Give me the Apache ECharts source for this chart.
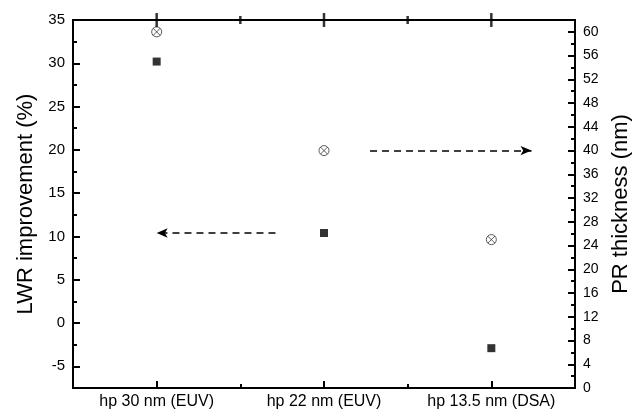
<!DOCTYPE html>
<html>
<head>
<meta charset="utf-8">
<script src="https://cdn.jsdelivr.net/npm/echarts@6/dist/echarts.min.js"></script>
<style>html,body{margin:0;padding:0;background:#fff}#c{width:633px;height:417px}</style>
</head>
<body>
<div id="c"></div>
<script>
const categories = ['hp 30 nm (EUV)', 'hp 22 nm (EUV)', 'hp 13.5 nm (DSA)'];
const lwrImprovement = [30.2, 10.4, -2.9];
const prThickness = [60, 40, 25];
const leftTicks = [-5, 0, 5, 10, 15, 20, 25, 30, 35];
const leftMinor = [-2.5, 2.5, 7.5, 12.5, 17.5, 22.5, 27.5, 32.5];
const rightTicks = [0, 4, 8, 12, 16, 20, 24, 28, 32, 36, 40, 44, 48, 52, 56, 60];
const rightMinor = [2, 6, 10, 14, 18, 22, 26, 30, 34, 38, 42, 46, 50, 54, 58];
const catPos = [1, 2, 3];
const catMinor = [1.5, 2.5];
const leftMax = 35;
// arrow annotations (x in category units)
const leftArrowX = [1.71, 1.0];
const rightArrowX = [2.275, 3.24];

const FONT = 'Liberation Sans, Arial, sans-serif';
const black = '#000';
const circleCross = 'path://M10,0 A10,10 0 1,1 10,20 A10,10 0 1,1 10,0 Z M2.93,2.93 L17.07,17.07 M17.07,2.93 L2.93,17.07';
const GRID = { left: 73, right: 58, top: 20, bottom: 29, containLabel: false, outerBoundsMode: 'none' };

function xAx(grid, pos, ticks, len, labels, showLine) {
  return {
    gridIndex: grid, type: 'value', position: pos, min: 0.5, max: 3.5,
    axisLine: { show: showLine, onZero: false, lineStyle: { color: black, width: 2 } },
    axisTick: { show: true, inside: true, length: len, customValues: ticks, lineStyle: { color: black, width: 2 } },
    axisLabel: labels ? { show: true, customValues: catPos, margin: 6, color: black, fontSize: 16, fontFamily: FONT,
      formatter: v => categories[Math.round(v) - 1] } : { show: false },
    splitLine: { show: false }
  };
}
function yAx(grid, pos, min, max, ticks, len, labels, showLine, name, gap, fs) {
  const o = {
    gridIndex: grid, type: 'value', position: pos, min: min, max: max,
    axisLine: { show: showLine, onZero: false, lineStyle: { color: black, width: 2 } },
    axisTick: { show: !!ticks, inside: true, length: len, customValues: ticks || [], lineStyle: { color: black, width: 2 } },
    axisLabel: labels ? { show: true, customValues: labels, margin: 8, color: black, fontSize: fs, fontFamily: FONT } : { show: false },
    splitLine: { show: false }
  };
  if (name) {
    o.name = name; o.nameLocation = 'middle'; o.nameRotate = 90; o.nameGap = gap;
    o.nameTextStyle = { color: black, fontSize: 22, fontFamily: FONT };
  }
  return o;
}
function topTickSeries(vals, len) {
  return {
    type: 'scatter', xAxisIndex: 0, yAxisIndex: 0, silent: true, clip: false, z: 5,
    data: vals.map(v => [v, leftMax]),
    symbol: 'rect', symbolSize: [2.5, len * 2], symbolOffset: [0, 0],
    itemStyle: { color: black }
  };
}

const chart = echarts.init(document.getElementById('c'), null, { renderer: 'canvas' });
chart.setOption({
  backgroundColor: '#fff',
  animation: false,
  grid: [
    Object.assign({}, GRID, { show: true, borderColor: black, borderWidth: 2, backgroundColor: 'transparent' }),
    Object.assign({}, GRID)
  ],
  xAxis: [
    xAx(0, 'bottom', catPos, 7, true, true),
    xAx(1, 'bottom', catMinor, 4, false, false)
  ],
  yAxis: [
    yAx(0, 'left', -7.5, 35, leftTicks, 7, leftTicks, true, 'LWR improvement (%)', 28, 15),
    yAx(0, 'right', 0, 62, rightTicks, 7, rightTicks, true, 'PR thickness (nm)', 35, 14),
    yAx(1, 'left', -7.5, 35, leftMinor, 4, null, false),
    yAx(1, 'right', 0, 62, rightMinor, 4, null, false)
  ],
  series: [
    {
      type: 'scatter', xAxisIndex: 0, yAxisIndex: 0,
      data: lwrImprovement.map((v, i) => [catPos[i], v]),
      symbol: 'rect', symbolSize: 8,
      itemStyle: { color: black },
      markLine: {
        silent: true, symbol: ['none', 'arrow'], symbolSize: [7, 11],
        label: { show: false },
        lineStyle: { color: black, width: 1.5, type: [7, 5] },
        data: [[{ coord: [leftArrowX[0], lwrImprovement[1]] }, { coord: [leftArrowX[1], lwrImprovement[1]] }]]
      }
    },
    {
      type: 'scatter', xAxisIndex: 0, yAxisIndex: 1,
      data: prThickness.map((v, i) => [catPos[i], v]),
      symbol: circleCross, symbolSize: 10,
      itemStyle: { color: '#fff', borderColor: '#333', borderWidth: 1 },
      markLine: {
        silent: true, symbol: ['none', 'arrow'], symbolSize: [7, 11],
        label: { show: false },
        lineStyle: { color: black, width: 1.5, type: [7, 5] },
        data: [[{ coord: [rightArrowX[0], prThickness[1]] }, { coord: [rightArrowX[1], prThickness[1]] }]]
      }
    },
    topTickSeries(catPos, 7),
    topTickSeries(catMinor, 4)
  ]
});
</script>
</body>
</html>
